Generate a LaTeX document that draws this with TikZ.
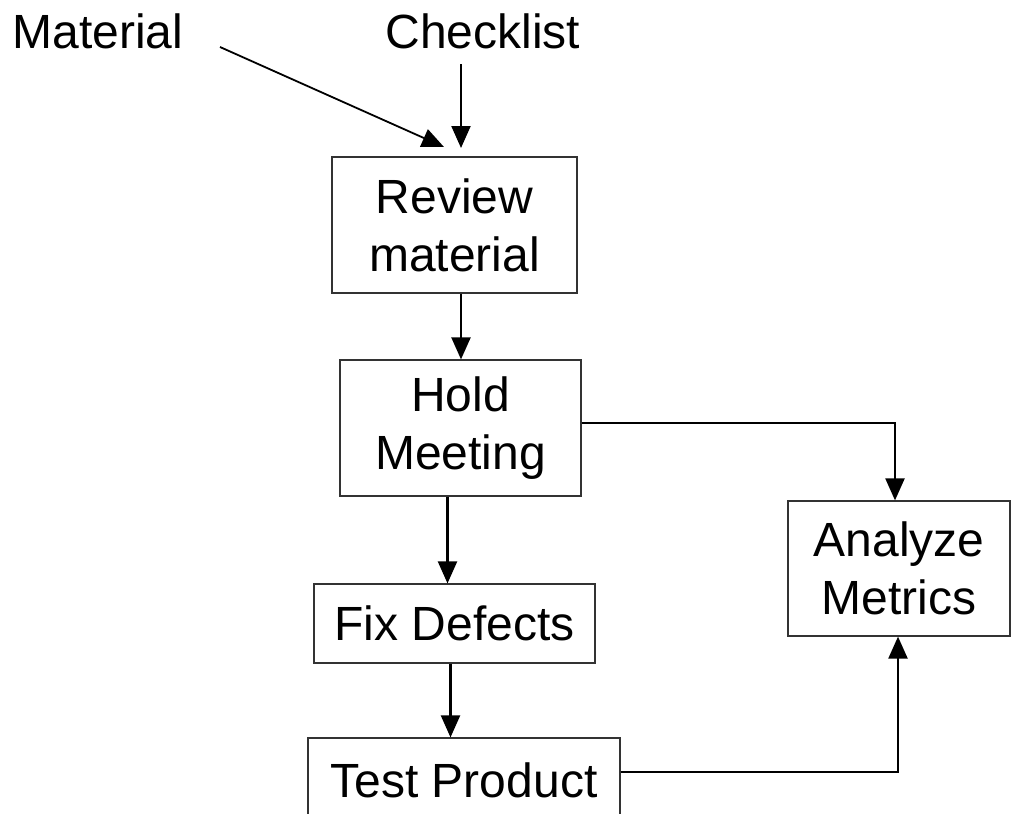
\documentclass[tikz,border=0pt]{standalone}
\usepackage{fontspec}
\setmainfont{Liberation Sans}
\usetikzlibrary{arrows.meta,calc}
\begin{document}
\begin{tikzpicture}[x=1pt,y=-1pt,
  box/.style={draw=black!80,line width=1.2pt,inner sep=0pt,align=center,font=\fontsize{48}{58}\selectfont},
  lbl/.style={inner sep=0pt,font=\fontsize{48}{58}\selectfont},
  arr/.style={line width=2.2pt,-{Triangle[length=22pt,width=19pt]}}]
\useasboundingbox (0,0) rectangle (1015,814);
\node[lbl] (mat) at (98,31) {Material};
\node[lbl] (chk) at (483,31) {Checklist};
\node[box,minimum width=245pt,minimum height=136pt] (rev) at (454.5,225) {Review\\material};
\node[box,minimum width=241pt,minimum height=136pt] (hold) at (460.5,428) {Hold\\Meeting};
\node[box,minimum width=281pt,minimum height=79pt] (fix) at (454.5,623.5) {Fix Defects};
\node[box,minimum width=312pt,minimum height=84pt] (test) at (464,780) {Test Product};
\node[box,minimum width=222pt,minimum height=135pt] (ana) at (899,568.5) {Analyze\\Metrics};
% connectors
\coordinate (m1) at (220,47);
\coordinate (m2) at (444,147);
\draw[arr,line width=1.8pt] (m1) -- (m2);
\coordinate (c1) at (461,64);
\coordinate (c2) at (461,148);
\draw[arr] (c1) -- (c2);
\coordinate (r1) at ($(rev.south)+(6.5,0)$);
\draw[arr] (r1) -- (r1 |- hold.north);
\coordinate (h1) at ($(hold.south)+(-13,0)$);
\draw[arr] (h1) -- (h1 |- fix.north);
\coordinate (f1) at ($(fix.south)+(-4,0)$);
\draw[arr] (f1) -- (f1 |- test.north);
\coordinate (h2) at ($(hold.east)+(0,-5)$);
\coordinate (a1) at ($(ana.north)+(-4,0)$);
\draw[arr] (h2) -| (a1);
\coordinate (t1) at ($(test.east)+(0,-8)$);
\coordinate (a2) at ($(ana.south)+(-1,0)$);
\draw[arr] (t1) -| (a2);
\end{tikzpicture}
\end{document}
